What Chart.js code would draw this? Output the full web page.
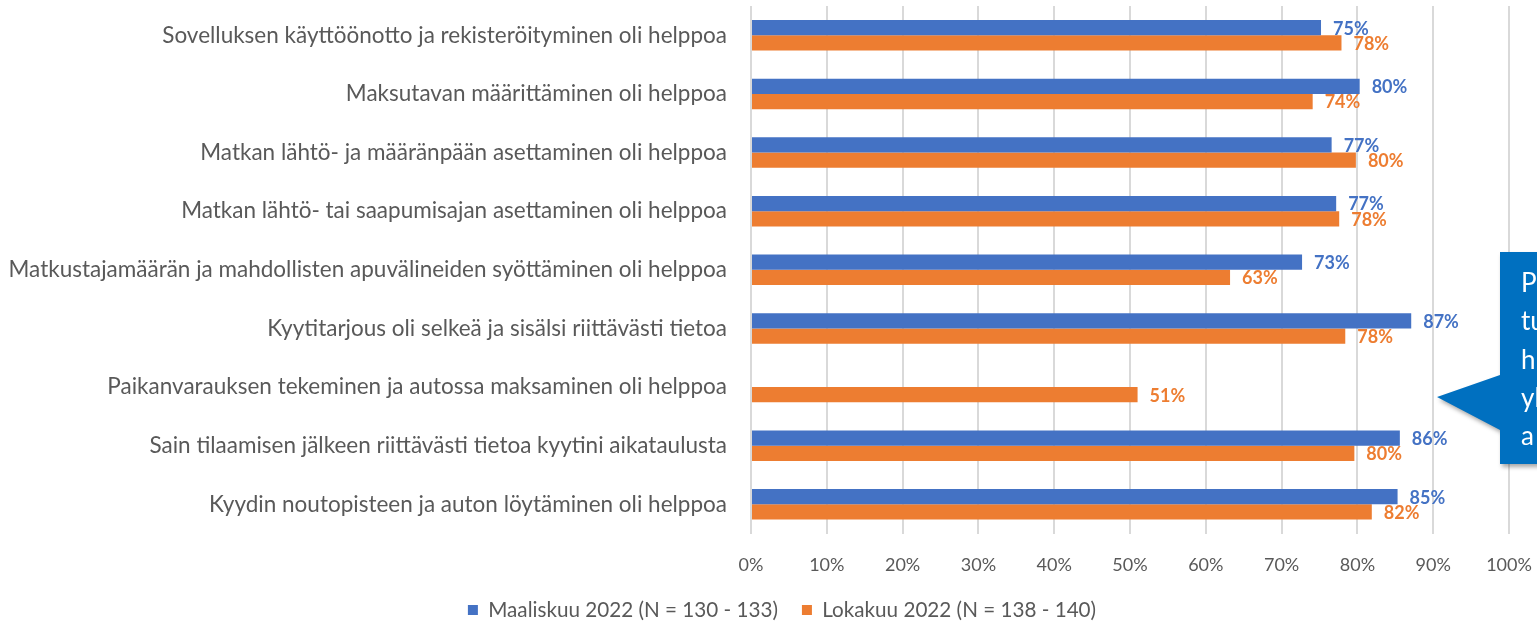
<!DOCTYPE html>
<html><head><meta charset="utf-8">
<script src="https://cdn.jsdelivr.net/npm/chart.js@4.4.1/dist/chart.umd.min.js"></script>
<style>
html,body{margin:0;padding:0;overflow:hidden;background:#fff;width:1537px;height:623px}
#wrap{position:absolute;left:0;top:0;width:1564px;height:623px}
</style>
</head><body>
<div id="wrap"><canvas id="c" width="1564" height="623"></canvas></div>
<script>
const categories = [
  'Sovelluksen käyttöönotto ja rekisteröityminen oli helppoa',
  'Maksutavan määrittäminen oli helppoa',
  'Matkan lähtö- ja määränpään asettaminen oli helppoa',
  'Matkan lähtö- tai saapumisajan asettaminen oli helppoa',
  'Matkustajamäärän ja mahdollisten apuvälineiden syöttäminen oli helppoa',
  'Kyytitarjous oli selkeä ja sisälsi riittävästi tietoa',
  'Paikanvarauksen tekeminen ja autossa maksaminen oli helppoa',
  'Sain tilaamisen jälkeen riittävästi tietoa kyytini aikataulusta',
  'Kyydin noutopisteen ja auton löytäminen oli helppoa'
];
const maaliskuu2022 = [75.2, 80.3, 76.6, 77.2, 72.7, 87.1, null, 85.6, 85.3];
const lokakuu2022   = [77.9, 74.1, 79.8, 77.6, 63.2, 78.4, 51.0, 79.6, 81.9];
const seriesNames = ['Maaliskuu 2022 (N = 130 - 133)', 'Lokakuu 2022 (N = 138 - 140)'];
const xTicks = [0, 10, 20, 30, 40, 50, 60, 70, 80, 90, 100];
const calloutLines = ['Pa', 'tu', 'h', 'yl', 'a'];

const BLUE = '#4472C4', ORANGE = '#ED7D31', GREY = '#595959';

function fitSize(text, target, weight) {
  const c = document.createElement('canvas').getContext('2d');
  c.font = (weight ? weight + ' ' : '') + '20px Lato';
  return 20 * target / c.measureText(text).width;
}
const catSize = fitSize(categories[4], 719);
const legSize = fitSize(seriesNames[0], 290);
const tickSize = 18;
const LEG_PAD = 24;

const dataLabels = {
  id: 'dataLabels',
  afterDatasetsDraw(chart) {
    const ctx = chart.ctx;
    ctx.save();
    ctx.font = 'bold 18px Lato';
    ctx.textAlign = 'left';
    ctx.textBaseline = 'middle';
    chart.data.datasets.forEach((ds, di) => {
      const meta = chart.getDatasetMeta(di);
      meta.data.forEach((el, i) => {
        const v = ds.data[i];
        if (v === null || v === undefined) return;
        ctx.fillStyle = ds.backgroundColor;
        ctx.fillText(Math.round(v) + '%', el.x + 12, el.y + 1);
      });
    });
    ctx.restore();
  }
};

const callout = {
  id: 'callout',
  afterDraw(chart) {
    const ctx = chart.ctx;
    const L = 1500, T = 252, B = 464, R = chart.width + 20;
    ctx.save();
    ctx.shadowColor = 'rgba(0,0,0,0.35)';
    ctx.shadowBlur = 4;
    ctx.shadowOffsetX = 2;
    ctx.shadowOffsetY = 3;
    ctx.fillStyle = '#0070C0';
    ctx.beginPath();
    ctx.moveTo(L, T);
    ctx.lineTo(R, T);
    ctx.lineTo(R, B);
    ctx.lineTo(L, B);
    ctx.lineTo(L, 430);
    ctx.lineTo(1437, 397);
    ctx.lineTo(L, 375);
    ctx.closePath();
    ctx.fill();
    ctx.restore();
    ctx.save();
    ctx.fillStyle = '#ffffff';
    ctx.font = '26px Lato';
    ctx.textAlign = 'left';
    ctx.textBaseline = 'alphabetic';
    calloutLines.forEach((t, i) => ctx.fillText(t, 1521, 292 + i * 38.3));
    ctx.restore();
  }
};

new Chart(document.getElementById('c'), {
  type: 'bar',
  data: {
    labels: categories,
    datasets: [
      { label: seriesNames[0], data: maaliskuu2022, backgroundColor: BLUE, borderWidth: 0,
        categoryPercentage: 0.52, barPercentage: 1.0 },
      { label: seriesNames[1], data: lokakuu2022, backgroundColor: ORANGE, borderWidth: 0,
        categoryPercentage: 0.52, barPercentage: 1.0 }
    ]
  },
  options: {
    indexAxis: 'y',
    responsive: false,
    animation: false,
    layout: { padding: { top: 6, left: 0, right: 0, bottom: 0 } },
    scales: {
      x: {
        min: 0, max: 100,
        afterBuildTicks(scale) { scale.ticks = xTicks.map(v => ({ value: v })); },
        afterFit(scale) { scale.height = 42; scale.paddingLeft = 0; scale.paddingRight = 0; },
        ticks: {
          callback: v => v + '%',
          color: GREY,
          font: { family: 'Lato', size: tickSize },
          padding: 21,
          maxRotation: 0,
          autoSkip: false
        },
        grid: { color: '#D9D9D9', lineWidth: 2, drawTicks: false },
        border: { display: false }
      },
      y: {
        afterFit(scale) { scale.width = 751; scale.paddingTop = 0; scale.paddingBottom = 0; },
        ticks: {
          color: GREY,
          font: { family: 'Lato', size: catSize },
          padding: 24,
          autoSkip: false
        },
        grid: { display: false, drawTicks: false },
        border: { display: false }
      },
      yRightSpace: {
        type: 'linear',
        position: 'right',
        display: true,
        afterFit(scale) { scale.width = 1564 - 1509; scale.paddingTop = 0; scale.paddingBottom = 0; },
        ticks: { display: false },
        grid: { display: false, drawTicks: false },
        border: { display: false }
      }
    },
    plugins: {
      legend: {
        position: 'bottom',
        maxHeight: 13 + LEG_PAD + legSize / 2,
        labels: {
          boxWidth: 10,
          boxHeight: 10,
          padding: LEG_PAD,
          color: GREY,
          font: { family: 'Lato', size: legSize }
        }
      },
      tooltip: { enabled: false }
    }
  },
  plugins: [dataLabels, callout]
});
</script>
</body></html>
